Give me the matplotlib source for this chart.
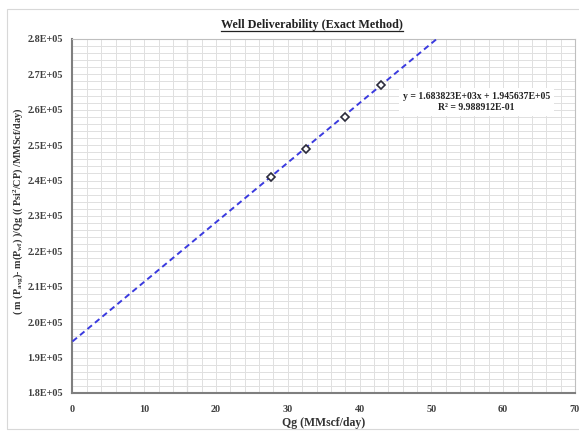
import matplotlib
matplotlib.use("Agg")
import matplotlib.pyplot as plt
from matplotlib.ticker import MultipleLocator, FuncFormatter
from matplotlib.patches import Rectangle
from matplotlib.lines import Line2D

plt.rcParams['font.family'] = ['Liberation Serif', 'DejaVu Serif']
plt.rcParams['mathtext.default'] = 'regular'

# Flow-after-flow test points
qg = [27.7, 32.6, 38.0, 43.0]
pseudo_dp_over_q = [241000, 249000, 258000, 267000]

# Linear fit reported for the test
slope = 1.683823e3
intercept = 1.945637e5
r_squared = 9.988912e-01

x_range = [0, 70]
y_range = [1.8e5, 2.8e5]

fig = plt.figure(figsize=(5.79, 4.33), dpi=100)
fig.patch.set_facecolor('white')
ax = fig.add_axes([0.1252, 0.0924, 0.8678, 0.8176])

# outer chart-area frame
fig.patches.append(Rectangle((7 / 579, 1 - 429 / 433), 1.0, 420 / 433,
                             transform=fig.transFigure, fill=False,
                             edgecolor='#d8d8d8', lw=0.8, zorder=0))

ax.set_xlim(*x_range)
ax.set_ylim(*y_range)
ax.xaxis.set_major_locator(MultipleLocator(10))
ax.xaxis.set_minor_locator(MultipleLocator(2))
ax.yaxis.set_major_locator(MultipleLocator(10000))
ax.yaxis.set_minor_locator(MultipleLocator(2000))
ax.grid(which='both', color='#e0e0e0', lw=0.7)
ax.set_axisbelow(True)
ax.axvline(16, color='#b0b0b0', lw=0.8, zorder=0.5)

ax.tick_params(which='both', length=0)
ax.tick_params(axis='x', pad=9)
ax.tick_params(axis='y', pad=7)
ax.yaxis.set_major_formatter(FuncFormatter(lambda v, p: f"{v:.1E}"))
for lbl in ax.get_xticklabels() + ax.get_yticklabels():
    lbl.set_fontweight('bold')
    lbl.set_fontsize(7.3)
    lbl.set_color('#404040')

for side in ['left', 'bottom']:
    ax.spines[side].set_color('#7f7f7f')
    ax.spines[side].set_linewidth(1.5)
for side in ['top', 'right']:
    ax.spines[side].set_color('#bfbfbf')
    ax.spines[side].set_linewidth(0.8)

# trend line
xl = [x_range[0], (y_range[1] - intercept) / slope]
yl = [slope * xv + intercept for xv in xl]
ax.plot(xl, yl, color='#3a3adf', lw=1.4, ls=(0, (3, 2)), zorder=3)

ax.plot(qg, pseudo_dp_over_q, ls='none', marker='D', ms=4.0,
        mfc='white', mec='#2a2a3a', mew=1.2, zorder=4)

ax.text(0.804, 0.823,
        f"y = {slope:.6E}x + {intercept:.6E}\nR² = {r_squared:.6E}",
        transform=ax.transAxes, ha='center', va='center',
        fontsize=7, fontweight='bold', color='#222222', linespacing=1.25,
        bbox=dict(facecolor='white', edgecolor='none', pad=3))

ax.set_xlabel("Qg (MMscf/day)", fontsize=8.5, fontweight='bold',
              color='#333333', labelpad=2)
ax.set_ylabel(r"( m (P$_{avg}$)- m(P$_{wf}$) )/Qg (( Psi$^{2}$/CP) /MMScf/day)",
              fontsize=7.3, fontweight='bold', color='#333333')
ax.yaxis.set_label_coords(-0.092, 0.514)

title = fig.text(312 / 579, 1 - 28 / 433, "Well Deliverability (Exact Method)",
                 ha='center', va='baseline', fontsize=8.7, fontweight='bold',
                 color='#222222')

fig.canvas.draw()
bb = title.get_window_extent().transformed(fig.transFigure.inverted())
fig.add_artist(Line2D([bb.x0, bb.x1], [title.get_position()[1] - 0.006] * 2,
                      transform=fig.transFigure, color='#222222', lw=0.9))

fig.savefig("out.png", dpi=100, facecolor='white')
